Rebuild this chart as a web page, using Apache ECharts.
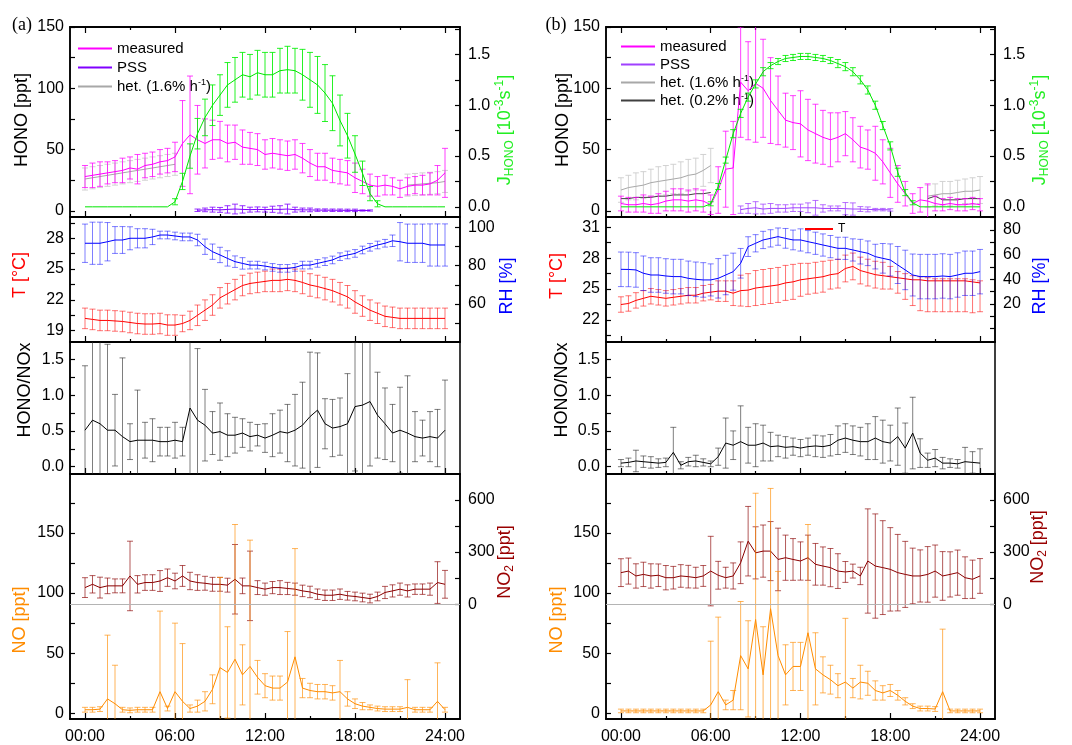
<!DOCTYPE html>
<html><head><meta charset="utf-8">
<script src="https://cdn.jsdelivr.net/npm/echarts@6/dist/echarts.min.js"></script>
<style>html,body{margin:0;padding:0;background:#fff}#c{width:1072px;height:745px}</style>
</head><body><div id="c"></div>
<script>
// ---------- time axis (hours) ----------
const hours = [0,0.5,1,1.5,2,2.5,3,3.5,4,4.5,5,5.5,6,6.5,7,7.5,8,8.5,9,9.5,10,10.5,11,11.5,12,12.5,13,13.5,14,14.5,15,15.5,16,16.5,17,17.5,18,18.5,19,19.5,20,20.5,21,21.5,22,22.5,23,23.5,24];
const xTickMajor = [0,6,12,18,24];
const xTickMinor = [3,9,15,21];

// ---------- tick labels ----------
const honoTicks = [0,25,50,75,100,125,150], honoLabels = [0,50,100,150];
const jTicks = [0,0.25,0.5,0.75,1,1.25,1.5,1.75], jLabels = [0,0.5,1,1.5];
const aTTicks = [19,20.5,22,23.5,25,26.5,28,29.5], aTLabels = [19,22,25,28];
const aRHTicks = [50,60,70,80,90,100], aRHLabels = [60,80,100];
const bTTicks = [20.5,22,23.5,25,26.5,28,29.5,31], bTLabels = [22,25,28,31];
const bRHTicks = [0,10,20,30,40,50,60,70,80,90], bRHLabels = [20,40,60,80];
const ratioTicks = [0,0.25,0.5,0.75,1,1.25,1.5], ratioLabels = [0,0.5,1,1.5];
const noTicks = [0,25,50,75,100,125,150,175], noLabels = [0,50,100,150];
const no2Ticks = [0,150,300,450,600], no2Labels = [0,300,600];

// ---------- panel (a) ----------
const aHono = [28,29,30,31,32,33,35,34,37,38,40,41,44,55,62,58,55,58,58,55,56,52,51,50,46,47,46,45,46,43,39,36,36,33,32,31,27,24,21,20,21,20,18,20,21,21,22,25,31];
const aHonoErr = [9,10,10,9,9,10,9,12,10,10,10,10,12,35,48,28,20,16,15,15,14,14,13,13,12,12,12,12,12,12,11,11,11,10,10,10,12,10,9,8,8,7,7,7,7,8,9,12,20];
const aPss = [null,null,null,null,null,null,null,null,null,null,null,null,null,null,null,0.5,0.8,1.0,0.8,1.2,1.5,1.2,1.0,1.2,1.0,1.3,1.2,1.5,1.0,0.8,0.8,0.6,0.6,0.5,0.5,0.4,0.4,0.3,0.3,null,null,null,null,null,null,null,null,null,null];
const aPssErr = [null,null,null,null,null,null,null,null,null,null,null,null,null,null,null,1,1.5,2,2,3,4,3,2,2,2,2.5,3,4,2,1.5,1.5,1,1,1,1,1,1,0.5,0.5,null,null,null,null,null,null,null,null,null,null];
const aHet = [26,27,28,29,30,31,32,33,34,35,36,37,38,null,null,null,null,null,null,null,null,null,null,null,null,null,null,null,null,null,null,null,null,null,null,null,null,null,null,null,null,null,null,21,21.5,22,22.5,23,24];
const aHetErr = [9,9,9,9,9,9,9,9,9,9,9,9,9,null,null,null,null,null,null,null,null,null,null,null,null,null,null,null,null,null,null,null,null,null,null,null,null,null,null,null,null,null,null,9,9,9,9,9,9];
const aJ = [0,0,0,0,0,0,0,0,0,0,0,0,0.05,0.25,0.5,0.72,0.88,1.0,1.1,1.2,1.25,1.3,1.28,1.32,1.3,1.3,1.34,1.35,1.34,1.3,1.25,1.2,1.12,1.02,0.85,0.7,0.52,0.33,0.13,0.03,0,0,0,0,0,0,0,0,0];
const aJErr = [null,null,null,null,null,null,null,null,null,null,null,null,0.03,0.08,0.12,0.15,0.18,0.2,0.2,0.22,0.22,0.22,0.22,0.22,0.22,0.22,0.22,0.23,0.22,0.25,0.27,0.28,0.28,0.27,0.25,0.22,0.18,0.12,0.07,0.03,null,null,null,null,null,null,null,null,null];
const aT = [20.2,20.1,20.0,20.0,19.95,19.9,19.8,19.7,19.65,19.65,19.7,19.55,19.55,19.7,20.0,20.5,21.0,21.5,22.2,22.6,23.0,23.4,23.6,23.7,23.8,23.9,23.9,24.0,23.9,23.7,23.45,23.3,23.1,22.9,22.6,22.3,21.8,21.4,21.0,20.7,20.4,20.3,20.2,20.2,20.2,20.2,20.2,20.2,20.2];
const aTErr = [1.0,1.0,1.0,1.0,1.0,1.0,1.0,1.0,1.0,1.0,1.0,1.0,1.0,0.8,0.9,1.0,1.0,1.0,1.0,1.0,1.0,1.0,1.0,1.0,1.0,1.1,1.1,1.1,1.1,1.1,1.1,1.1,1.1,1.1,1.1,1.1,1.1,1.0,1.0,1.0,1.0,1.0,1.0,1.0,1.0,1.0,1.0,1.0,1.0];
const aRH = [91.7,91.7,91.7,92.5,93.4,93.4,94.3,94.3,94.3,95,96,96,95.5,95,95,93.4,89.9,87.3,85.6,83.8,82.1,81.2,80.3,80.3,79.8,79.1,78.6,78.6,79.1,80.3,80.3,81.2,82.1,83.0,84.7,85.6,86.4,88.2,89.6,90.8,91.7,93,92.5,91.7,91.7,91.7,90.8,90.8,90.8];
const aRHErr = [10,11,11,10,7,7,6,5,5,4,2,2,2,2,2,3,4,4,4,4,3,3,2,2,2,2,2,2,2,2,2,2,2,2,2,2,2,2,2,2,2,3,10,10,10,10,11,11,11];
const aRatio = [0.51,0.65,0.6,0.51,0.51,0.42,0.35,0.37,0.37,0.37,0.35,0.35,0.37,0.35,0.82,0.65,0.58,0.47,0.49,0.44,0.44,0.47,0.42,0.44,0.4,0.44,0.49,0.47,0.51,0.58,0.7,0.79,0.6,0.54,0.56,0.6,0.84,0.86,0.91,0.72,0.6,0.47,0.51,0.47,0.42,0.4,0.42,0.4,0.51];
const aRatioErr = [0.9,1.5,1.2,1.2,0.5,1.1,0.25,0.7,0.25,0.3,0.2,0.2,0.25,0.2,1.3,1.0,0.5,0.3,0.4,0.3,0.25,0.2,0.2,0.15,0.2,0.3,0.3,0.4,0.5,0.6,0.9,0.8,0.35,0.4,0.4,0.7,0.9,1.0,0.9,0.6,0.5,0.4,0.6,0.8,0.35,0.25,0.35,0.4,0.7];
const aNO = [3,3,3.5,12,8,3,2.5,3,3,3,18,4,18,10,4,6,10,20,38,34,45,32,39,30,23,21,21,26,47,21,19,18,18,17,18,12,8,6,5,4,3.5,3.5,3.5,5,3,3,3,10,3];
const aNOErr = [2,2,2,53,32,2,2,2,2,2,67,2,57,48,3,5,8,12,75,38,112,25,105,14,10,10,10,42,90,8,6,6,6,6,26,6,4,3,2,2,2,2,2,23,2,2,2,32,2];
const aNO2 = [95,114,95,105,105,105,162,114,124,124,133,152,133,162,133,124,120,114,114,109,143,105,105,95,86,95,95,90,86,76,70,57,51,51,57,48,44,38,32,44,67,76,86,76,86,86,86,124,114];
const aNO2Err = [57,50,60,45,40,40,200,50,45,45,60,50,45,60,50,45,40,40,40,40,200,45,200,40,35,35,40,35,35,33,33,30,30,30,30,25,25,25,25,25,35,35,35,35,30,30,35,120,80];

// ---------- panel (b) ----------
const bHono = [6,5,5,6,5,6,8,9,9,8,9,8,5,17,34,35,105,98,104,100,90,82,74,72,71,66,63,60,58,60,63,58,52,50,47,40,31,22,14,6,9,8,6,5,6,5,5,6,5];
const bHonoErr = [6,6,6,7,7,8,8,9,9,9,9,9,8,19,31,38,45,40,48,40,35,28,22,22,27,25,24,22,22,20,18,18,17,16,22,18,20,15,10,8,10,14,6,5,5,5,5,5,5];
const bPss = [null,null,null,null,null,null,null,null,null,null,null,null,null,null,null,null,1,2,2.5,1.5,2,2,2,2.5,2.5,2.5,2.5,2,2,2,1.8,1.5,1.5,1.2,1,1,0.8,null,null,null,null,null,null,null,null,null,null,null,null];
const bPssErr = [null,null,null,null,null,null,null,null,null,null,null,null,null,null,null,null,3,4,5,4,4,3,3,3,3,4,6,3,2,2,5,5,2,2,1,1,1,null,null,null,null,null,null,null,null,null,null,null,null];
const bHet16 = [17,19,20,21,23,24,25,26,27,29,30,33,37,null,null,null,null,null,null,null,null,null,null,null,null,null,null,null,null,null,null,null,null,null,null,null,null,null,null,null,null,12,13,14,14,15,16,16,17];
const bHet16Err = [10,10,11,11,11,12,12,12,13,13,13,13,14,null,null,null,null,null,null,null,null,null,null,null,null,null,null,null,null,null,null,null,null,null,null,null,null,null,null,null,null,9,9,10,10,10,10,11,11];
const bHet02 = [10,10,11,11,11,12,12,13,13,13,14,14,15,null,null,null,null,null,null,null,null,null,null,null,null,null,null,null,null,null,null,null,null,null,null,null,null,null,null,null,null,10,12,9,9,9,10,10,10];
const bJ = [0,0,0,0,0,0,0,0,0,0,0,0,0.03,0.2,0.46,0.72,0.92,1.08,1.21,1.33,1.39,1.43,1.46,1.47,1.48,1.48,1.47,1.46,1.44,1.41,1.38,1.33,1.25,1.15,1.0,0.8,0.6,0.34,0.14,0.04,0,0,0,0,0,0,0,0,0];
const bJErr = [null,null,null,null,null,null,null,null,null,null,null,null,0.02,0.03,0.03,0.04,0.04,0.04,0.04,0.04,0.03,0.03,0.03,0.03,0.03,0.03,0.03,0.03,0.03,0.04,0.04,0.04,0.04,0.04,0.04,0.04,0.04,0.04,0.03,0.02,null,null,null,null,null,null,null,null,null];
const bT = [23.5,23.6,23.9,24.1,24.3,24.2,24.1,24.2,24.3,24.4,24.4,24.6,24.7,24.8,24.8,24.6,24.85,24.9,25.1,25.2,25.3,25.4,25.6,25.7,25.9,26.0,26.1,26.2,26.4,26.5,27.0,27.2,26.8,26.6,26.4,26.3,26.2,26.1,26.0,25.9,25.9,25.8,25.8,25.8,25.8,25.8,25.8,25.7,25.6];
const bTErrLo = [0.75,0.75,0.75,0.75,0.75,0.75,0.75,0.75,0.75,0.75,0.75,0.75,0.75,1.0,1.0,1.2,1.5,1.6,1.7,1.7,1.7,1.7,1.7,1.7,1.6,1.5,1.5,1.5,1.4,1.4,1.3,1.3,1.3,1.3,1.3,1.3,1.2,1.5,2.0,2.5,3.0,3.0,3.0,3.0,3.0,3.0,3.0,3.0,2.8];
const bTErrHi = [0.75,0.75,0.75,0.75,0.75,0.75,0.75,0.75,0.75,0.75,0.75,0.75,0.75,1.0,1.0,1.2,1.5,1.6,1.7,1.7,1.7,1.7,1.7,1.7,1.6,1.5,1.5,1.5,1.4,1.4,1.3,1.3,1.3,1.3,1.3,1.3,1.0,0.6,0.5,0.4,0.3,0.3,0.2,0.2,0.2,0.2,0.2,0.2,0.2];
const bRH = [48.1,48,47.6,44.9,43.5,43.5,42.7,42.2,42.2,40.8,40,39.5,39.5,40.8,43.5,46.2,53,66.5,69.2,71.9,73.2,74.6,73.2,71.9,71.9,70.5,69.2,67.8,66.5,65.1,65.1,63.8,62.4,61.1,58.4,57,55.7,51.6,47.6,43.5,42.2,42.2,42.2,42.7,42.2,43.5,44.9,44.9,46.2];
const bRHErr = [14,14,14,14,14,14,14,14,14,14,14,14,13,16,16,15,12,8,7,7,7,7,8,8,9,9,9,9,9,9,9,9,10,10,10,12,13,15,16,17,18,18,18,18,18,18,18,18,18];
const bRatio = [0.05,0.06,0.08,0.07,0.06,0.05,0.06,0.2,0.02,0.07,0.08,0.06,0.04,0.14,0.33,0.3,0.35,0.3,0.3,0.33,0.28,0.29,0.27,0.28,0.26,0.28,0.29,0.28,0.3,0.37,0.4,0.37,0.35,0.35,0.4,0.35,0.33,0.42,0.26,0.47,0.19,0.09,0.12,0.05,0.05,0.04,0.07,0.06,0.05];
const bRatioErr = [0.05,0.06,0.15,0.08,0.08,0.06,0.06,0.35,0.05,0.06,0.08,0.05,0.04,0.12,0.35,0.2,0.5,0.25,0.3,0.25,0.2,0.15,0.15,0.12,0.12,0.12,0.15,0.15,0.15,0.2,0.2,0.2,0.2,0.25,0.3,0.3,0.25,0.4,0.35,0.5,0.2,0.1,0.12,0.08,0.06,0.06,0.2,0.15,0.2];
const bNO = [2,2,2,2,2,2,2,2,2,2,2,2,7,18,7,11,48,37,78,32,87,48,32,39,39,67,37,32,28,23,26,21,26,25,19,17,19,15,10,6,4,4,3.6,18,2,2,2,2,2];
const bNOErr = [1.5,1.5,1.5,1.5,1.5,1.5,1.5,1.5,1.5,1.5,1.5,1.5,53,62,4,8,45,40,105,40,100,70,25,20,20,90,30,15,12,10,53,8,14,10,8,6,5,4,3,2,2,2,2,52,1.5,1.5,1.5,1.5,1.5];
const bNO2 = [181,190,162,171,162,166,152,152,162,158,152,162,190,166,152,162,238,362,295,305,305,257,267,257,248,267,229,219,210,190,185,190,162,248,219,210,200,181,171,162,162,171,190,162,171,181,152,143,162];
const bNO2Err = [80,75,70,70,70,65,70,65,65,65,60,60,200,80,60,75,120,200,150,150,170,180,130,120,110,130,120,110,110,100,60,40,50,300,300,270,240,220,190,160,150,160,150,140,130,130,120,110,100];

// ---------- build ----------
const FONT = '"Liberation Sans", Arial, Helvetica, sans-serif';
const cols = [{left:70, width:390}, {left:606, width:389}];
const rows = [{top:27,height:190},{top:217,height:125},{top:342,height:132},{top:474,height:247}];
const grids = [], xAxis = [], yAxis = [], series = [];
const fmtTime = v => (v < 10 ? '0' : '') + v + ':00';
const fInt = v => String(v);
const f1 = v => v.toFixed(1);

cols.forEach(c => rows.forEach(r => grids.push({left:c.left, top:r.top, width:c.width, height:r.height, show:true, borderColor:'#000', borderWidth:1.5, containLabel:false})));

function xAx(g, pos, ticks, len, labels){
  return {type:'value', gridIndex:g, position:pos, min:-1, max:25,
    axisLine:{show:true, onZero:false, lineStyle:{color:'#000', width:1.5}},
    axisTick:{show:true, inside:true, length:len, customValues:ticks, lineStyle:{color:'#000', width:1.2}},
    axisLabel:{show:!!labels, customValues:labels || ticks, formatter:fmtTime, fontSize:16, fontFamily:FONT, color:'#000', margin:10},
    splitLine:{show:false}};
}
for (let g = 0; g < 8; g++) xAxis.push(xAx(g, 'bottom', xTickMajor, 6, (g % 4 === 3) ? xTickMajor : null));
for (let g = 0; g < 8; g++) xAxis.push(xAx(g, 'bottom', xTickMinor, 3, null));
[0, 4].forEach(g => { xAxis.push(xAx(g, 'top', xTickMajor, 6, null)); xAxis.push(xAx(g, 'top', xTickMinor, 3, null)); });

function yAx(g, pos, min, max, ticks, labels, fmt){
  return {type:'value', gridIndex:g, position:pos, min, max,
    axisLine:{show:true, onZero:false, lineStyle:{color:'#000', width:1.5}},
    axisTick:{show:true, inside:true, length:5, customValues:ticks, lineStyle:{color:'#000', width:1.2}},
    axisLabel:{show:true, customValues:labels, formatter:fmt, fontSize:16, fontFamily:FONT, color:'#000', margin: pos === 'left' ? 6 : 8},
    splitLine:{show:false}};
}
const Y = {};
function addY(k, cfg){ Y[k] = yAxis.length; yAxis.push(cfg); }
addY('aHono', yAx(0,'left',-5,150,honoTicks,honoLabels,fInt));
addY('aJ', yAx(0,'right',-0.1,1.77,jTicks,jLabels,f1));
addY('aT', yAx(1,'left',17.9,30.07,aTTicks,aTLabels,fInt));
addY('aRH', yAx(1,'right',40.2,105.4,aRHTicks,aRHLabels,fInt));
addY('aR', yAx(2,'left',-0.102,1.742,ratioTicks,ratioLabels,f1));
addY('aNO', yAx(3,'left',-4.7,199,noTicks,noLabels,fInt));
addY('aNO2', yAx(3,'right',-661,748.6,no2Ticks,no2Labels,fInt));
addY('bHono', yAx(4,'left',-5,150,honoTicks,honoLabels,fInt));
addY('bJ', yAx(4,'right',-0.1,1.77,jTicks,jLabels,f1));
addY('bT', yAx(5,'left',19.86,32.0,bTTicks,bTLabels,fInt));
addY('bRH', yAx(5,'right',-10.8,90.5,bRHTicks,bRHLabels,fInt));
addY('bR', yAx(6,'left',-0.102,1.742,ratioTicks,ratioLabels,f1));
addY('bNO', yAx(7,'left',-4.7,199,noTicks,noLabels,fInt));
addY('bNO2', yAx(7,'right',-661,748.6,no2Ticks,no2Labels,fInt));

function pairs(v){ const o = []; for (let i = 0; i < hours.length; i++) o.push([hours[i], v[i] == null ? '-' : v[i]]); return o; }
function triples(v, lo, hi){ hi = hi || lo; const o = []; for (let i = 0; i < hours.length; i++){ if (v[i] == null || lo[i] == null) continue; o.push([hours[i], v[i] - lo[i], v[i] + hi[i]]); } return o; }

function errS(name, xi, yi, data, color, z){
  const cap = 3;
  return {type:'custom', name, xAxisIndex:xi, yAxisIndex:yi, data, clip:true, z, silent:true, animation:false,
    encode:{x:0, y:[1,2]},
    renderItem(params, api){
      const x = api.value(0), lo = api.value(1), hi = api.value(2);
      const a = api.coord([x, lo]), b = api.coord([x, hi]);
      const st = {stroke:color, lineWidth:1};
      return {type:'group', children:[
        {type:'line', shape:{x1:a[0], y1:a[1], x2:b[0], y2:b[1]}, style:st},
        {type:'line', shape:{x1:a[0]-cap, y1:a[1], x2:a[0]+cap, y2:a[1]}, style:st},
        {type:'line', shape:{x1:b[0]-cap, y1:b[1], x2:b[0]+cap, y2:b[1]}, style:st}]};
    }};
}
function lineS(name, xi, yi, vals, color, z, extra){
  return Object.assign({type:'line', name, xAxisIndex:xi, yAxisIndex:yi, data:pairs(vals), symbol:'none', showSymbol:false,
    lineStyle:{color, width:1}, itemStyle:{color}, z, connectNulls:false, animation:false, silent:true}, extra || {});
}
const zeroLine = {markLine:{silent:true, symbol:'none', label:{show:false}, lineStyle:{color:'#b4b4b4', width:1, type:'solid'}, data:[{yAxis:0}]}};

function addColumn(p, g0, d){
  series.push(errS(p+'hetE', g0, Y[p+'Hono'], triples(d.het, d.hetErr), 'rgba(205,205,205,0.9)', 2));
  series.push(lineS(d.hetName, g0, Y[p+'Hono'], d.het, '#a8a8a8', 3));
  if (d.het02) series.push(lineS(d.het02Name, g0, Y[p+'Hono'], d.het02, '#404040', 3));
  series.push(errS(p+'honoE', g0, Y[p+'Hono'], triples(d.hono, d.honoErr), 'rgba(255,0,255,0.75)', 4));
  series.push(lineS(d.measName, g0, Y[p+'Hono'], d.hono, '#ff00ff', 5));
  series.push(errS(p+'jE', g0, Y[p+'J'], triples(d.j, d.jErr), 'rgba(0,240,0,0.85)', 6));
  series.push(lineS(p+'J', g0, Y[p+'J'], d.j, '#00e600', 7));
  series.push(errS(p+'pssE', g0, Y[p+'Hono'], triples(d.pss, d.pssErr), d.pssErrColor, 8));
  series.push(lineS(d.pssName, g0, Y[p+'Hono'], d.pss, d.pssColor, 9));
  series.push(errS(p+'tE', g0+1, Y[p+'T'], triples(d.t, d.tErrLo, d.tErrHi), 'rgba(255,0,0,0.55)', 2));
  series.push(lineS(d.tName, g0+1, Y[p+'T'], d.t, '#ff0000', 3));
  series.push(errS(p+'rhE', g0+1, Y[p+'RH'], triples(d.rh, d.rhErr), 'rgba(0,0,255,0.5)', 4));
  series.push(lineS(p+'RH', g0+1, Y[p+'RH'], d.rh, '#0000ff', 5));
  series.push(errS(p+'rE', g0+2, Y[p+'R'], triples(d.ratio, d.ratioErr), 'rgba(40,40,40,0.6)', 2));
  series.push(lineS(p+'R', g0+2, Y[p+'R'], d.ratio, '#000000', 3));
  series.push(errS(p+'no2E', g0+3, Y[p+'NO2'], triples(d.no2, d.no2Err), 'rgba(139,0,0,0.65)', 2));
  series.push(lineS(p+'NO2', g0+3, Y[p+'NO2'], d.no2, '#8b0000', 3, zeroLine));
  series.push(errS(p+'noE', g0+3, Y[p+'NO'], triples(d.no, d.noErr), 'rgba(255,140,0,0.65)', 4));
  series.push(lineS(p+'NO', g0+3, Y[p+'NO'], d.no, '#ff8c00', 5));
}
addColumn('a', 0, {hono:aHono, honoErr:aHonoErr, pss:aPss, pssErr:aPssErr, het:aHet, hetErr:aHetErr, j:aJ, jErr:aJErr,
  t:aT, tErrLo:aTErr, tErrHi:aTErr, rh:aRH, rhErr:aRHErr, ratio:aRatio, ratioErr:aRatioErr, no:aNO, noErr:aNOErr, no2:aNO2, no2Err:aNO2Err,
  measName:'measured', pssName:'PSS', hetName:'het16', tName:'T_a', pssColor:'#8000ff', pssErrColor:'rgba(128,0,255,0.8)'});
addColumn('b', 4, {hono:bHono, honoErr:bHonoErr, pss:bPss, pssErr:bPssErr, het:bHet16, hetErr:bHet16Err, het02:bHet02, j:bJ, jErr:bJErr,
  t:bT, tErrLo:bTErrLo, tErrHi:bTErrHi, rh:bRH, rhErr:bRHErr, ratio:bRatio, ratioErr:bRatioErr, no:bNO, noErr:bNOErr, no2:bNO2, no2Err:bNO2Err,
  measName:'measured_b', pssName:'PSS_b', hetName:'het16_b', het02Name:'het02_b', tName:'T_b', pssColor:'#a040ff', pssErrColor:'rgba(160,64,255,0.75)'});

const legendText = {'measured':'measured', 'measured_b':'measured', 'PSS':'PSS', 'PSS_b':'PSS',
  'het16':'het. (1.6% h{sup|-1})', 'het16_b':'het. (1.6% h{sup|-1})', 'het02_b':'het. (0.2% h{sup|-1})', 'T_b':'T'};
const legTS = {fontSize:15, fontFamily:FONT, color:'#000', lineHeight:17,
  rich:{sup:{fontSize:9, lineHeight:9, verticalAlign:'top', fontFamily:FONT, color:'#000'}}};
const legends = [
  {left:73, top:35, orient:'vertical', icon:'rect', itemWidth:34, itemHeight:2, itemGap:2, selectedMode:false,
   data:['measured','PSS','het16'], formatter:n => legendText[n], textStyle:legTS},
  {left:616, top:33, orient:'vertical', icon:'rect', itemWidth:34, itemHeight:2, itemGap:1, selectedMode:false,
   data:['measured_b','PSS_b','het16_b','het02_b'], formatter:n => legendText[n], textStyle:legTS},
  {left:800, top:218, orient:'horizontal', icon:'rect', itemWidth:28, itemHeight:2, selectedMode:false,
   data:['T_b'], formatter:n => legendText[n], textStyle:{fontSize:12, fontFamily:FONT, color:'#000'}}
];

function vText(x, y, text, color){
  return {type:'text', x, y, rotation:Math.PI/2, silent:true,
    style:{text, fill:color, fontSize:18, fontFamily:FONT, align:'center', verticalAlign:'middle', textAlign:'center', textVerticalAlign:'middle', lineHeight:22,
      rich:{sub:{fontSize:12, lineHeight:22, verticalAlign:'bottom', fill:color, fontFamily:FONT},
            sup:{fontSize:12, lineHeight:12, verticalAlign:'top', fill:color, fontFamily:FONT}}}};
}
const J_NAME = 'J{sub|HONO} [10{sup|-3}s{sup|-1}]';
const SERIF = '"Liberation Serif", "Times New Roman", serif';
const graphic = [
  {type:'text', x:22, y:25, silent:true, style:{text:'(a)', fontSize:18, fontFamily:SERIF, fill:'#000', align:'center', verticalAlign:'middle', textAlign:'center', textVerticalAlign:'middle'}},
  {type:'text', x:556, y:25, silent:true, style:{text:'(b)', fontSize:18, fontFamily:SERIF, fill:'#000', align:'center', verticalAlign:'middle', textAlign:'center', textVerticalAlign:'middle'}},
  vText(22, 120, 'HONO [ppt]', '#000'),
  vText(505, 130, J_NAME, '#22ee22'),
  vText(20, 275, 'T [°C]', '#ff0000'),
  vText(507, 286, 'RH [%]', '#0000ff'),
  vText(25, 390, 'HONO/NOx', '#000'),
  vText(20, 620, 'NO [ppt]', '#ff8c00'),
  vText(505, 562, 'NO{sub|2} [ppt]', '#990000'),
  vText(563, 120, 'HONO [ppt]', '#000'),
  vText(1040, 130, J_NAME, '#22ee22'),
  vText(557, 276, 'T [°C]', '#ff0000'),
  vText(1040, 286, 'RH [%]', '#0000ff'),
  vText(562, 390, 'HONO/NOx', '#000'),
  vText(557, 620, 'NO [ppt]', '#ff8c00'),
  vText(1038, 547, 'NO{sub|2} [ppt]', '#990000')
];

const chart = echarts.init(document.getElementById('c'), null, {renderer:'canvas', width:1072, height:745});
chart.setOption({backgroundColor:'#fff', animation:false, grid:grids, xAxis, yAxis, series, legend:legends, graphic});
</script></body></html>
